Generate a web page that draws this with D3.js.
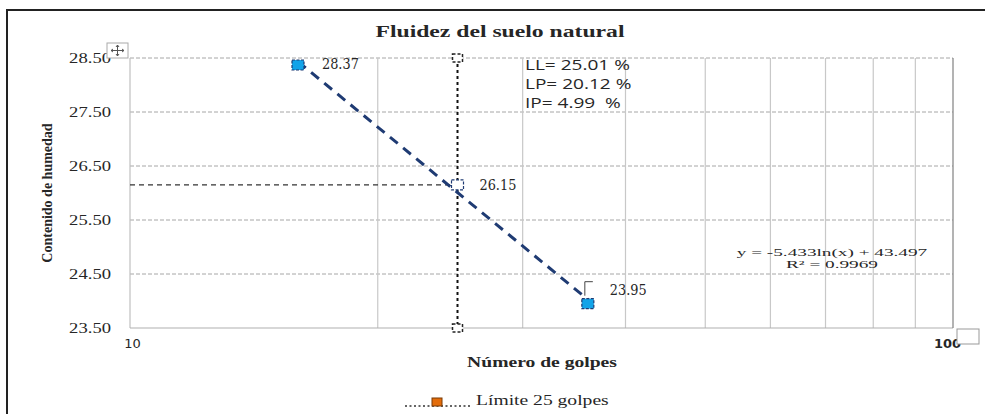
<!DOCTYPE html>
<html>
<head>
<meta charset="utf-8">
<script src="https://cdn.jsdelivr.net/npm/d3@7"></script>
<style>
  body { margin: 0; background: #fff; }
  svg text { fill: #262626; }
</style>
</head>
<body>
<div class="container"></div>
<script>
var w = 985;
var h = 414;

// data
var golpes = [16, 25, 36];
var humedad = [28.37, 26.15, 23.95];
var limiteX = [25, 25];
var limiteY = [28.5, 23.5];
var yTicks = [23.5, 24.5, 25.5, 26.5, 27.5, 28.5];
var xTicks = [10, 100];
var xGrid = [20, 30, 40, 50, 60, 70, 80, 90];
var cuadro = ["LL= 25.01 %", "LP= 20.12 %", "IP= 4.99  %"];
var ecuacion = ["y = -5.433ln(x) + 43.497", "R² = 0.9969"];

var m = { left: 130, right: 953, top: 58, bottom: 328 };

var canvas = d3.select(".container").append("svg")
  .attr("width", w)
  .attr("height", h);

var x = d3.scaleLog().domain([10, 100]).range([m.left, m.right]);
var y = d3.scaleLinear().domain([23.5, 28.5]).range([m.bottom, m.top]);

// the original picture is stretched sideways, so widen texts around their anchor
function stretch(sel, sx) {
  sel.attr("transform", function () {
    var t = d3.select(this);
    var tx = +t.attr("x") || 0, ty = +t.attr("y") || 0;
    return "translate(" + tx + "," + ty + ") scale(" + sx + ",1) translate(" + (-tx) + "," + (-ty) + ")";
  });
}

// outer frame
canvas.append("rect")
  .attr("x", 7).attr("y", 10).attr("width", w).attr("height", h)
  .attr("fill", "none").attr("stroke", "#222").attr("stroke-width", 2);

// title
canvas.append("text").attr("x", 500).attr("y", 37).attr("text-anchor", "middle")
  .style("font", "bold 16px 'Liberation Serif'").attr("fill", "#111").text("Fluidez  del suelo natural")
  .call(stretch, 1.48);

// horizontal grid (dashed)
canvas.append("g").selectAll("line").data(yTicks.slice(1)).enter().append("line")
  .attr("x1", m.left).attr("x2", m.right)
  .attr("y1", (d) => y(d)).attr("y2", (d) => y(d))
  .attr("stroke", "#a6a6a6").attr("stroke-dasharray", "4,2");

// vertical grid
canvas.append("g").selectAll("line").data(xGrid).enter().append("line")
  .attr("x1", (d) => x(d)).attr("x2", (d) => x(d))
  .attr("y1", m.top).attr("y2", m.bottom)
  .attr("stroke", "#c8c8c8").attr("stroke-width", 1.2);

// axes lines
canvas.append("line").attr("x1", m.left).attr("x2", m.left).attr("y1", m.top).attr("y2", m.bottom)
  .attr("stroke", "#c0c0c0").attr("stroke-width", 1.2);
canvas.append("line").attr("x1", m.left).attr("x2", m.right).attr("y1", m.bottom).attr("y2", m.bottom)
  .attr("stroke", "#b0b0b0").attr("stroke-width", 1.2);
canvas.append("line").attr("x1", m.right).attr("x2", m.right).attr("y1", m.top).attr("y2", m.bottom)
  .attr("stroke", "#808080").attr("stroke-width", 1.2);

// y axis
var yAxis = canvas.append("g").attr("transform", "translate(" + (m.left - 16) + ",0)")
  .call(d3.axisLeft(y).tickValues(yTicks).tickFormat(d3.format(".2f")).tickSize(0));
yAxis.select(".domain").remove();
yAxis.selectAll("text").style("font", "14px 'Liberation Serif'").attr("fill", "#333").attr("dy", "0.3em")
  .call(stretch, 1.33);

// x axis
var xAxis = canvas.append("g").attr("transform", "translate(0," + (m.bottom + 8) + ")")
  .call(d3.axisBottom(x).tickValues(xTicks).tickFormat(d3.format("d")).tickSize(0));
xAxis.select(".domain").remove();
xAxis.selectAll("text").style("font", "13px 'DejaVu Sans'").attr("fill", "#333")
  .attr("dx", (d) => d == 10 ? "2px" : "-6px")
  .style("font-weight", (d) => d == 100 ? "bold" : "normal");

// axis titles
canvas.append("text").attr("transform", "translate(52," + 193 + ") rotate(-90)")
  .attr("text-anchor", "middle").style("font", "bold 14px 'Liberation Serif'").attr("fill", "#111")
  .text("Contenido de humedad");
canvas.append("text").attr("x", 542).attr("y", 367).attr("text-anchor", "middle")
  .style("font", "bold 14px 'Liberation Serif'").attr("fill", "#111").text("Número de golpes")
  .call(stretch, 1.4);

// Limite 25 golpes - vertical dotted line
var lim = limiteX.map((d, i) => [d, limiteY[i]]);
canvas.append("path").datum(lim)
  .attr("d", d3.line().x((d) => x(d[0])).y((d) => y(d[1])))
  .attr("fill", "none").attr("stroke", "#111").attr("stroke-width", 2).attr("stroke-dasharray", "3,3");
canvas.append("g").selectAll("rect").data(lim).enter().append("rect")
  .attr("x", (d) => x(d[0]) - 5).attr("y", (d) => y(d[1]) - 4)
  .attr("width", 10).attr("height", 8)
  .attr("fill", "#fff").attr("stroke", "#222").attr("stroke-width", 1.5).attr("stroke-dasharray", "3,2");

// horizontal dashed line to 25 golpes
canvas.append("line")
  .attr("x1", m.left).attr("x2", x(golpes[1]))
  .attr("y1", y(humedad[1])).attr("y2", y(humedad[1]))
  .attr("stroke", "#333").attr("stroke-width", 1.3).attr("stroke-dasharray", "5,4");

// logarithmic trend line (least squares on ln x)
var lx = golpes.map((d) => Math.log(d));
var mx = d3.mean(lx), my = d3.mean(humedad);
var slope = d3.sum(lx, (d, i) => (d - mx) * (humedad[i] - my)) / d3.sum(lx, (d) => (d - mx) * (d - mx));
var icpt = my - slope * mx;
var trend = d3.extent(golpes).map((g) => [g, slope * Math.log(g) + icpt]);
canvas.append("path").datum(trend)
  .attr("d", d3.line().x((d) => x(d[0])).y((d) => y(d[1])))
  .attr("fill", "none").attr("stroke", "#1f3b73").attr("stroke-width", 3).attr("stroke-dasharray", "10,7");

// data points
var pts = golpes.map((d, i) => [d, humedad[i]]);
canvas.append("g").selectAll("rect").data(pts).enter().append("rect")
  .attr("x", (d) => x(d[0]) - 6).attr("y", (d) => y(d[1]) - 5)
  .attr("width", 12).attr("height", 10)
  .attr("fill", (d, i) => i == 1 ? "#ffffff" : "#12a3e8")
  .attr("stroke", "#1f3b73").attr("stroke-width", 1.2).attr("stroke-dasharray", "3,1.5");

// data labels
var lblOff = [[24, 4], [22, 5], [22, -9]];
canvas.append("g").selectAll("text").data(pts).enter().append("text")
  .attr("x", (d, i) => x(d[0]) + lblOff[i][0]).attr("y", (d, i) => y(d[1]) + lblOff[i][1])
  .style("font", "14px 'DejaVu Serif'").attr("fill", "#333").text((d) => d[1].toFixed(2))
  .call(stretch, 0.92);
// leader for last label
canvas.append("path")
  .attr("d", "M" + (x(golpes[2]) - 3) + "," + (y(humedad[2]) - 8) + "V" + (y(humedad[2]) - 22) + "h8")
  .attr("fill", "none").attr("stroke", "#444").attr("stroke-width", 1);

// text box LL / LP / IP
canvas.append("g").selectAll("text").data(cuadro).enter().append("text")
  .attr("x", 525).attr("y", (d, i) => 70 + i * 19)
  .style("font", "15px 'Open Sans'").attr("fill", "#222").attr("xml:space", "preserve").text((d) => d)
  .call(stretch, 1.27);

// trendline equation
canvas.append("g").selectAll("text").data(ecuacion).enter().append("text")
  .attr("x", 832).attr("y", (d, i) => 256 + i * 12).attr("text-anchor", "middle")
  .style("font", "11px 'Liberation Serif'").attr("fill", "#333").text((d) => d)
  .call(stretch, 1.75);

// legend
canvas.append("line").attr("x1", 405).attr("x2", 472).attr("y1", 406).attr("y2", 406)
  .attr("stroke", "#333").attr("stroke-width", 1.5).attr("stroke-dasharray", "2,2.5");
canvas.append("rect").attr("x", 432).attr("y", 398).attr("width", 10).attr("height", 8)
  .attr("fill", "#e36c0a").attr("stroke", "#7a3a05").attr("stroke-width", 1);
canvas.append("text").attr("x", 476).attr("y", 405)
  .style("font", "14px 'Liberation Serif'").attr("fill", "#333").text("Límite 25 golpes")
  .call(stretch, 1.4);

// little chart handles
var mv = canvas.append("g").attr("transform", "translate(107,43)");
mv.append("rect").attr("width", 21).attr("height", 15).attr("fill", "#fff").attr("stroke", "#aaa");
mv.append("path").attr("d", "M4,7.5H17M10.5,2V13M4,7.5l2,-1.5M4,7.5l2,1.5M17,7.5l-2,-1.5M17,7.5l-2,1.5M10.5,2l-1.5,2M10.5,2l1.5,2M10.5,13l-1.5,-2M10.5,13l1.5,-2")
  .attr("stroke", "#555").attr("stroke-width", 1).attr("fill", "none");
canvas.append("rect").attr("x", 957).attr("y", 329).attr("width", 22).attr("height", 15)
  .attr("fill", "#fff").attr("stroke", "#999");
</script>
</body>
</html>
